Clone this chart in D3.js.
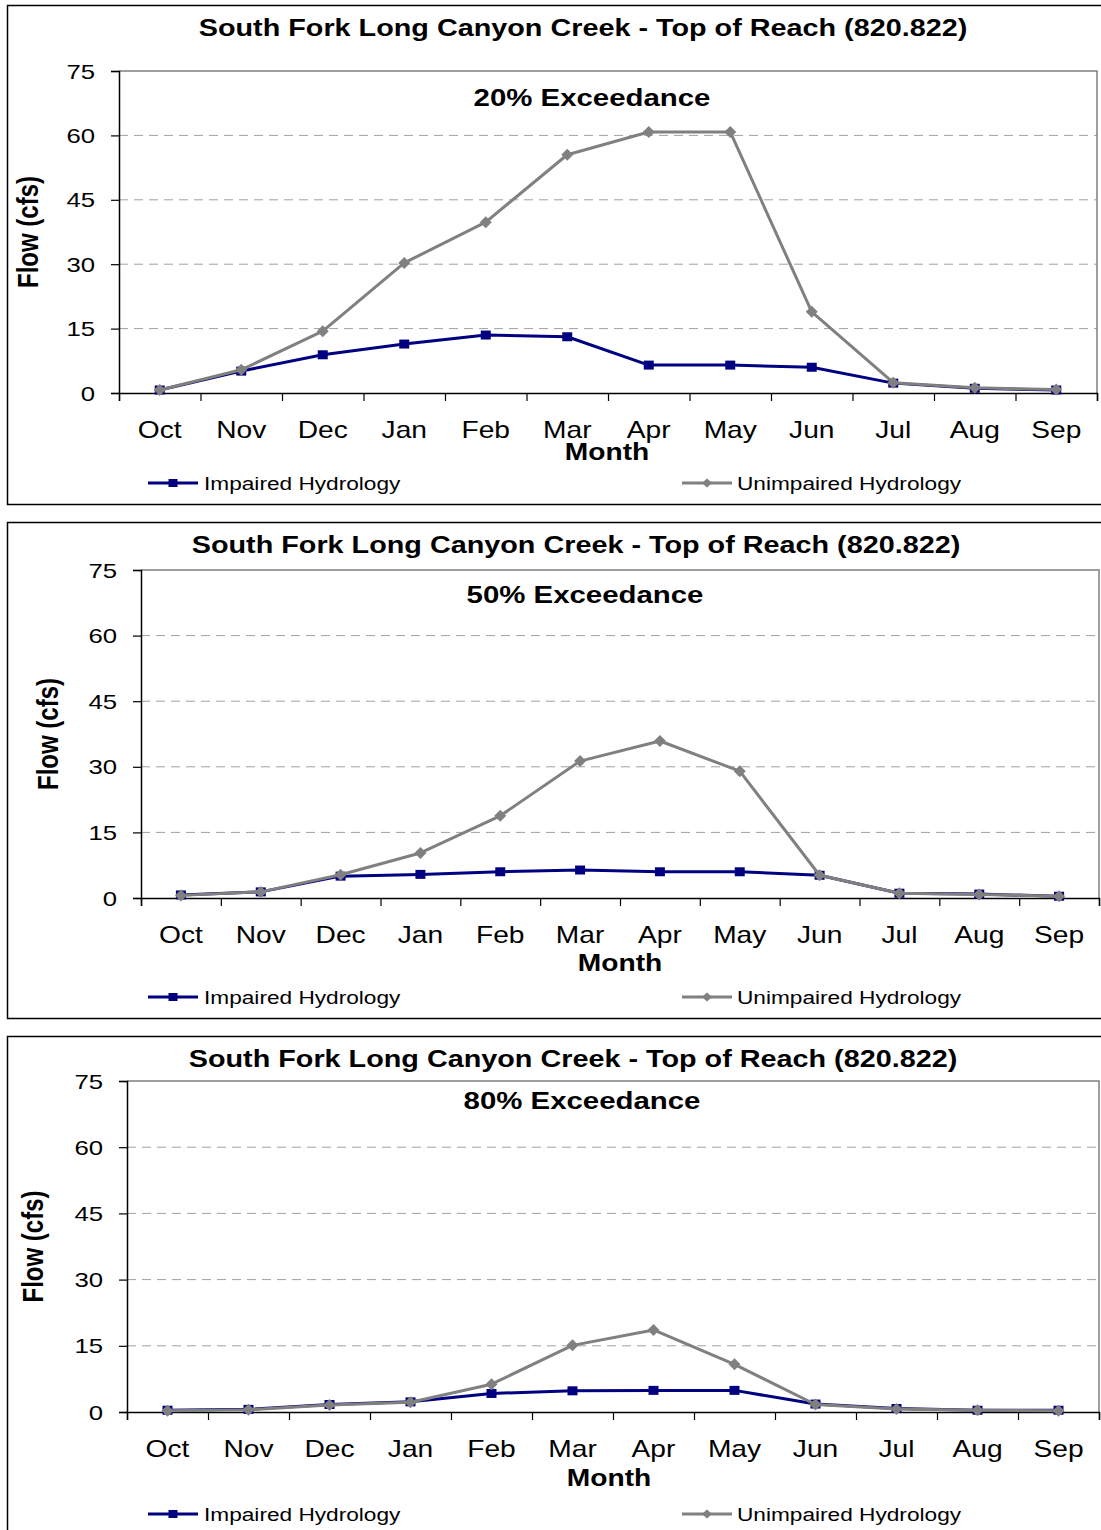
<!DOCTYPE html>
<html>
<head>
<meta charset="utf-8">
<script src="https://cdn.jsdelivr.net/npm/d3@7"></script>
<style>
  html, body { margin: 0; padding: 0; background: #fff; }
  svg { display: block; }
</style>
</head>
<body>
<svg id="chart" width="1101" height="1530"></svg>
<script>
// ---------- data ----------
const months = ["Oct","Nov","Dec","Jan","Feb","Mar","Apr","May","Jun","Jul","Aug","Sep"];
const yTicks = [0, 15, 30, 45, 60, 75];
const chartTitle = "South Fork Long Canyon Creek - Top of Reach (820.822)";
const seriesNames = ["Impaired Hydrology", "Unimpaired Hydrology"];
const exceedanceLabels = ["20% Exceedance", "50% Exceedance", "80% Exceedance"];

const impaired20   = [0.7, 5.1, 8.9, 11.4, 13.5, 13.1, 6.5, 6.5, 6.0, 2.3, 1.1, 0.7];
const unimpaired20 = [0.7, 5.4, 14.4, 30.3, 39.8, 55.5, 60.8, 60.8, 18.9, 2.4, 1.2, 0.8];
const impaired50   = [0.7, 1.4, 5.0, 5.4, 6.0, 6.4, 6.0, 6.0, 5.2, 1.1, 0.9, 0.4];
const unimpaired50 = [0.6, 1.4, 5.3, 10.3, 18.8, 31.3, 35.9, 29.0, 5.2, 1.1, 0.8, 0.4];
const impaired80   = [0.4, 0.6, 1.7, 2.3, 4.2, 4.8, 4.9, 4.9, 1.8, 0.8, 0.4, 0.4];
const unimpaired80 = [0.3, 0.5, 1.6, 2.2, 6.3, 15.1, 18.6, 10.8, 1.7, 0.7, 0.4, 0.3];

// ---------- layout (positions only) ----------
const layouts = [
  {box:[7,5,1110,504],   plot:[119,71,1097,393],   title:[583,36],   sub:[592,106],  yTitleX:30, month:[607,460],  legendY:483},
  {box:[7,522,1110,1018],plot:[141,570,1099,898],  title:[576,553],  sub:[585,603],  yTitleX:50, month:[620,971],  legendY:997},
  {box:[7,1036,1110,1545],plot:[127,1081,1099,1412],title:[573,1067],sub:[582,1109], yTitleX:35, month:[609,1486], legendY:1514}
];
const panelData = [
  {imp: impaired20, unimp: unimpaired20},
  {imp: impaired50, unimp: unimpaired50},
  {imp: impaired80, unimp: unimpaired80}
];

const S = 1.225; // horizontal stretch of the original raster
const FONT = "'Liberation Sans', Arial, Helvetica, sans-serif";
const NAVY = "#000080", GRAY = "#808080";

const svg = d3.select("#chart");

function stext(g, x, y, str, o) {
  const t = g.append("text")
    .attr("transform", o.rotate ? `translate(${x},${y}) rotate(-90) scale(1,${S})` : `translate(${x},${y}) scale(${S},1)`)
    .attr("text-anchor", o.anchor || "start")
    .attr("font-family", FONT)
    .attr("font-size", o.size)
    .attr("font-weight", o.weight || "normal")
    .attr("fill", "#000")
    .text(str);
  return t;
}

function squarePath(w, h) { return `M${-w/2},${-h/2}h${w}v${h}h${-w}Z`; }
function diamondPath(w, h) { return `M0,${-h/2}L${w/2},0L0,${h/2}L${-w/2},0Z`; }

layouts.forEach((L, i) => {
  const D = panelData[i];
  const g = svg.append("g");
  const [bx0, by0, bx1, by1] = L.box;
  g.append("rect").attr("x", bx0 + 0.5).attr("y", by0 + 0.5)
    .attr("width", bx1 - bx0).attr("height", by1 - by0)
    .attr("fill", "#fff").attr("stroke", "#000").attr("stroke-width", 1.5);

  const [px0, py0, px1, py1] = L.plot;
  const x = d3.scaleBand().domain(months).range([px0, px1]);
  const xIdx = d3.scaleLinear().domain([0, months.length]).range([px0, px1]);
  const y = d3.scaleLinear().domain([0, 75]).range([py1, py0]);

  // gridlines
  g.append("g").selectAll("line").data(yTicks.filter(v => v > 0 && v < 75)).join("line")
    .attr("x1", px0).attr("x2", px1)
    .attr("y1", d => y(d)).attr("y2", d => y(d))
    .attr("stroke", "#a0a0a0").attr("stroke-width", 1).attr("stroke-dasharray", "9,6");

  // plot frame: top & right (gray)
  g.append("path").attr("d", `M${px0},${y(75)}H${px1}V${y(0)}`)
    .attr("fill", "none").attr("stroke", GRAY).attr("stroke-width", 1.5);

  // y axis
  const yAxis = d3.axisLeft(y).tickValues(yTicks).tickSize(8).tickFormat("");
  const ga = g.append("g").attr("transform", `translate(${px0},0)`).call(yAxis);
  ga.select(".domain").attr("stroke", "#000").attr("stroke-width", 1.5);
  ga.selectAll(".tick line").attr("stroke", "#000").attr("stroke-width", 1.2);
  yTicks.forEach(v => stext(g, px0 - 24, y(v) + 7.5, String(v), {size: 21, anchor: "end"}));

  // x axis
  const xAxis = d3.axisBottom(xIdx).tickValues(d3.range(months.length + 1)).tickSize(8).tickFormat("");
  const gx = g.append("g").attr("transform", `translate(0,${py1})`).call(xAxis);
  gx.select(".domain").attr("stroke", "#000").attr("stroke-width", 1.5);
  gx.selectAll(".tick line").attr("stroke", "#000").attr("stroke-width", 1.2);
  months.forEach(m => stext(g, x(m) + x.bandwidth() / 2, py1 + 45, m, {size: 23, anchor: "middle"}));

  // titles
  stext(g, L.title[0], L.title[1], chartTitle, {size: 23.5, weight: "bold", anchor: "middle"});
  stext(g, L.sub[0], L.sub[1], exceedanceLabels[i], {size: 24, weight: "bold", anchor: "middle"});
  stext(g, L.month[0], L.month[1], "Month", {size: 23, weight: "bold", anchor: "middle"});
  stext(g, L.yTitleX + 8, (py0 + py1) / 2, "Flow (cfs)", {size: 24, weight: "bold", anchor: "middle", rotate: true});

  // series
  const cx = j => x(months[j]) + x.bandwidth() / 2;
  const line = d3.line().x((d, j) => cx(j)).y(d => y(d));
  g.append("path").datum(D.imp).attr("d", line)
    .attr("fill", "none").attr("stroke", NAVY).attr("stroke-width", 3).attr("stroke-linejoin", "round");
  g.append("g").selectAll("path").data(D.imp).join("path")
    .attr("d", squarePath(10, 9)).attr("transform", (d, j) => `translate(${cx(j)},${y(d)})`)
    .attr("fill", NAVY);
  g.append("path").datum(D.unimp).attr("d", line)
    .attr("fill", "none").attr("stroke", GRAY).attr("stroke-width", 3).attr("stroke-linejoin", "round");
  g.append("g").selectAll("path").data(D.unimp).join("path")
    .attr("d", diamondPath(12, 12)).attr("transform", (d, j) => `translate(${cx(j)},${y(d)})`)
    .attr("fill", GRAY);

  // legend
  const ly = L.legendY;
  g.append("line").attr("x1", 148).attr("x2", 198).attr("y1", ly).attr("y2", ly)
    .attr("stroke", NAVY).attr("stroke-width", 3);
  g.append("path").attr("d", squarePath(9, 8)).attr("transform", `translate(173,${ly})`).attr("fill", NAVY);
  stext(g, 204, ly + 6.5, seriesNames[0], {size: 18.5});
  g.append("line").attr("x1", 682).attr("x2", 732).attr("y1", ly).attr("y2", ly)
    .attr("stroke", GRAY).attr("stroke-width", 3);
  g.append("path").attr("d", diamondPath(10, 9)).attr("transform", `translate(707,${ly})`).attr("fill", GRAY);
  stext(g, 737, ly + 6.5, seriesNames[1], {size: 18.5});
});
</script>
</body>
</html>
